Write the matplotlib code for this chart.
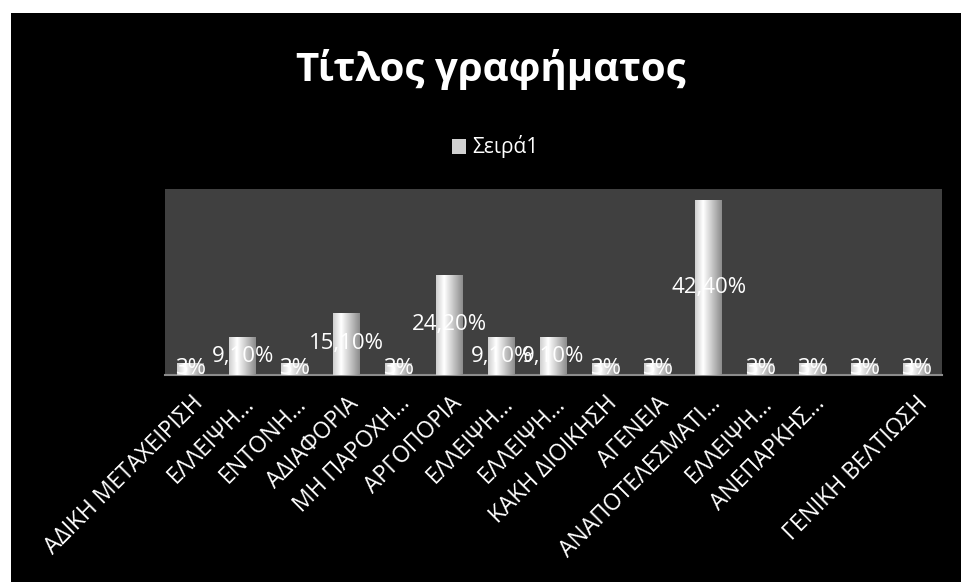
import numpy as np
import matplotlib
matplotlib.use("Agg")
import matplotlib.pyplot as plt
from matplotlib.patches import Rectangle

plt.rcParams['font.family'] = ['Open Sans', 'DejaVu Sans']

# --- data ---
categories = ["ΑΔΙΚΗ ΜΕΤΑΧΕΙΡΙΣΗ", "ΕΛΛΕΙΨΗ...", "ΕΝΤΟΝΗ...", "ΑΔΙΑΦΟΡΙΑ",
              "ΜΗ ΠΑΡΟΧΗ...", "ΑΡΓΟΠΟΡΙΑ", "ΕΛΛΕΙΨΗ...", "ΕΛΛΕΙΨΗ...",
              "ΚΑΚΗ ΔΙΟΙΚΗΣΗ", "ΑΓΕΝΕΙΑ", "ΑΝΑΠΟΤΕΛΕΣΜΑΤΙ...", "ΕΛΛΕΙΨΗ...",
              "ΑΝΕΠΑΡΚΗΣ...", "", "ΓΕΝΙΚΗ ΒΕΛΤΙΩΣΗ"]
values = [3, 9.1, 3, 15.1, 3, 24.2, 9.1, 9.1, 3, 3, 42.4, 3, 3, 3, 3]
series_name = "Σειρά1"
title = "Τίτλος γραφήματος"


def pct_label(v):
    if float(v).is_integer():
        return f"{int(v)}%"
    return f"{v:.2f}".replace(".", ",") + "%"


fig = plt.figure(figsize=(9.62, 5.82), dpi=100, facecolor="white")
# black chart area (white strip at top and left like the original)
bg = Rectangle((11 / 962, 0), 1, 1 - 13 / 582, transform=fig.transFigure,
               facecolor="black", edgecolor="none", zorder=-10)
fig.add_artist(bg)

ax = fig.add_axes([165 / 962, 1 - 375 / 582, (942 - 165) / 962, (375 - 189) / 582])
ax.set_facecolor("#404040")

x = np.arange(len(values))
bars = ax.bar(x, values, width=0.52, color="#d0d0d0", edgecolor="none", zorder=2,
              label=series_name)

# cylinder-like gradient on each bar
grad = np.linspace(0, 1, 64)
shade = 1.0 - 0.45 * np.abs(grad - 0.3) / 0.7
grad_img = np.tile(shade, (2, 1))
for b in bars:
    x0, w, h = b.get_x(), b.get_width(), b.get_height()
    im = ax.imshow(grad_img, cmap="gray", vmin=0, vmax=1, aspect="auto",
                   extent=[x0, x0 + w, 0, h], zorder=3, interpolation="bilinear")
    im.set_clip_path(b)

for xi, v in zip(x, values):
    ax.text(xi, v / 2, pct_label(v), ha="center", va="center", color="white",
            fontsize=16, zorder=5, clip_on=True)

ax.set_xlim(-0.5, len(values) - 0.5)
ax.set_ylim(0, 45)
ax.set_yticks([])
ax.set_xticks(x)
ax.set_xticklabels(categories, rotation=45, ha="right", rotation_mode="anchor",
                   color="white", fontsize=16.5)
ax.tick_params(axis="x", length=0, pad=12)
for s in ["top", "right", "left"]:
    ax.spines[s].set_visible(False)
ax.spines["bottom"].set_color("#8c8c8c")
ax.spines["bottom"].set_linewidth(1.5)

fig.text(0.51, 1 - 70 / 582, title, ha="center", va="center", color="white",
         fontsize=29, fontweight="bold")

leg = fig.legend(handles=[bars[0]], labels=[series_name], loc="center",
                 bbox_to_anchor=(0.515, 1 - 147 / 582), frameon=False,
                 fontsize=15, labelcolor="white", handlelength=0.7,
                 handleheight=0.7, handletextpad=0.3)

fig.savefig("out.png", dpi=100, facecolor="white")
